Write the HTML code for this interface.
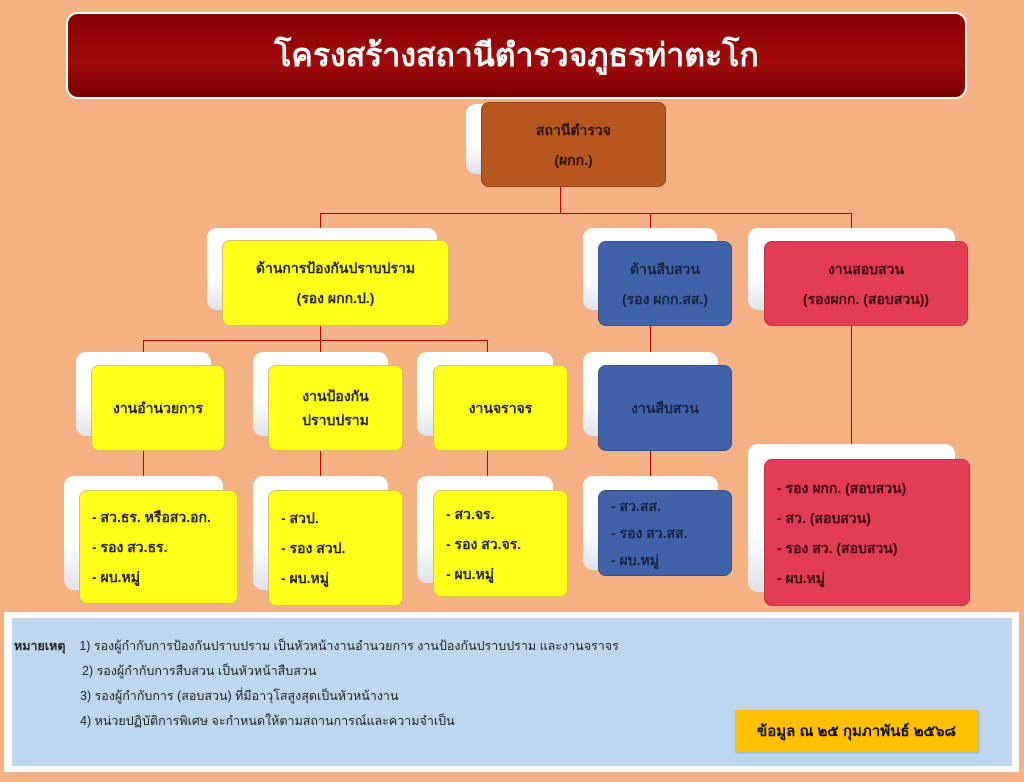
<!DOCTYPE html>
<html><head><meta charset="utf-8">
<style>
*{margin:0;padding:0;box-sizing:border-box}
body{width:1024px;height:782px;background:#f4b183;position:relative;overflow:hidden;font-family:"Liberation Sans",sans-serif;}
.a{position:absolute}
.sh{position:absolute;background:linear-gradient(180deg,#fff 60%,#dde3ea);border-radius:10px}
.bx{position:absolute;border-radius:8px;border:1px solid rgba(120,90,0,0.35);display:flex;flex-direction:column;justify-content:center;align-items:center;font-weight:bold;font-size:14px;color:#222;text-align:center;line-height:30px}
.y{background:#ffff1a;border-color:#d4c25a}
.b{background:#3f62a8;border-color:#33508a;color:#1a2440}
.r{background:#e23d55;border-color:#c23045;color:#3a0a10}
.l{align-items:flex-start;padding-left:12px;text-align:left}
.ln{position:absolute;background:#c00000}
.h{height:1px}.v{width:1px}
.lg{position:absolute;font-size:12.5px;color:#222}
</style></head><body>
<div class="a" style="left:66px;top:12px;width:901px;height:87px;border-radius:12px;border:2px solid #fff;background:linear-gradient(180deg,#8a0000,#a00a0a 60%,#7a0000);color:#fff;font-size:32px;font-weight:bold;display:flex;align-items:center;justify-content:center;">โครงสร้างสถานีตำรวจภูธรท่าตะโก</div>

<div class="ln v" style="left:560px;top:187px;height:27px"></div>
<div class="ln h" style="left:320px;top:213px;width:532px"></div>
<div class="ln v" style="left:320px;top:213px;height:28px"></div>
<div class="ln v" style="left:650px;top:213px;height:28px"></div>
<div class="ln v" style="left:851px;top:213px;height:246px"></div>
<div class="ln v" style="left:320px;top:326px;height:14px"></div>
<div class="ln h" style="left:143px;top:340px;width:345px"></div>
<div class="ln v" style="left:143px;top:340px;height:150px"></div>
<div class="ln v" style="left:320px;top:340px;height:150px"></div>
<div class="ln v" style="left:487px;top:340px;height:150px"></div>
<div class="ln v" style="left:650px;top:326px;height:164px"></div>

<div class="sh" style="left:466px;top:104px;width:185px;height:70px"></div>
<div class="bx" style="left:481px;top:102px;width:185px;height:85px;background:#b8561f;border-color:#8a4018;color:#2a1408">สถานีตำรวจ<br>(ผกก.)</div>

<div class="sh" style="left:207px;top:228px;width:230px;height:82px"></div>
<div class="bx y" style="left:222px;top:240px;width:227px;height:86px">ด้านการป้องกันปราบปราม<br>(รอง ผกก.ป.)</div>
<div class="sh" style="left:583px;top:228px;width:134px;height:82px"></div>
<div class="bx b" style="left:598px;top:241px;width:134px;height:85px">ด้านสืบสวน<br>(รอง ผกก.สส.)</div>
<div class="sh" style="left:748px;top:228px;width:207px;height:82px"></div>
<div class="bx r" style="left:764px;top:241px;width:204px;height:85px">งานสอบสวน<br>(รองผกก. (สอบสวน))</div>

<div class="sh" style="left:76px;top:352px;width:135px;height:84px"></div>
<div class="bx y" style="left:91px;top:365px;width:134px;height:86px">งานอำนวยการ</div>
<div class="sh" style="left:253px;top:352px;width:135px;height:84px"></div>
<div class="bx y" style="left:268px;top:365px;width:135px;height:86px;line-height:24px">งานป้องกัน<br>ปราบปราม</div>
<div class="sh" style="left:417px;top:352px;width:136px;height:84px"></div>
<div class="bx y" style="left:433px;top:365px;width:135px;height:86px">งานจราจร</div>
<div class="sh" style="left:583px;top:352px;width:135px;height:84px"></div>
<div class="bx b" style="left:598px;top:365px;width:134px;height:86px">งานสืบสวน</div>

<div class="sh" style="left:64px;top:476px;width:159px;height:114px"></div>
<div class="bx y l" style="left:79px;top:490px;width:159px;height:114px">- สว.ธร. หรือสว.อก.<br>- รอง สว.ธร.<br>- ผบ.หมู่</div>
<div class="sh" style="left:253px;top:476px;width:135px;height:114px"></div>
<div class="bx y l" style="left:268px;top:490px;width:135px;height:116px">- สวป.<br>- รอง สวป.<br>- ผบ.หมู่</div>
<div class="sh" style="left:417px;top:476px;width:136px;height:107px"></div>
<div class="bx y l" style="left:433px;top:490px;width:135px;height:107px">- สว.จร.<br>- รอง สว.จร.<br>- ผบ.หมู่</div>
<div class="sh" style="left:583px;top:476px;width:135px;height:94px"></div>
<div class="bx b l" style="left:598px;top:490px;width:134px;height:86px;line-height:27px">- สว.สส.<br>- รอง สว.สส.<br>- ผบ.หมู่</div>
<div class="sh" style="left:748px;top:444px;width:207px;height:148px"></div>
<div class="bx r l" style="left:764px;top:459px;width:206px;height:147px">- รอง ผกก. (สอบสวน)<br>- สว. (สอบสวน)<br>- รอง สว. (สอบสวน)<br>- ผบ.หมู่</div>

<div class="a" style="left:4px;top:612px;width:1015px;height:160px;background:#fff"></div>
<div class="a" style="left:12px;top:618px;width:1000px;height:148px;background:#bdd7ee"></div>
<div class="lg" style="left:14px;top:636px"><b>หมายเหตุ</b>&nbsp;&nbsp;&nbsp; 1) รองผู้กำกับการป้องกันปราบปราม เป็นหัวหน้างานอำนวยการ งานป้องกันปราบปราม และงานจราจร</div>
<div class="lg" style="left:82px;top:661px">2) รองผู้กำกับการสืบสวน เป็นหัวหน้าสืบสวน</div>
<div class="lg" style="left:80px;top:686px">3) รองผู้กำกับการ (สอบสวน) ที่มีอาวุโสสูงสุดเป็นหัวหน้างาน</div>
<div class="lg" style="left:80px;top:711px">4) หน่วยปฏิบัติการพิเศษ จะกำหนดให้ตามสถานการณ์และความจำเป็น</div>
<div class="a" style="left:735px;top:710px;width:243px;height:42px;background:#ffc000;display:flex;align-items:center;justify-content:center;font-weight:bold;font-size:15px;color:#111;box-shadow:1px 1px 2px rgba(0,0,0,0.2)">ข้อมูล ณ ๒๕ กุมภาพันธ์ ๒๕๖๘</div>
</body></html>
